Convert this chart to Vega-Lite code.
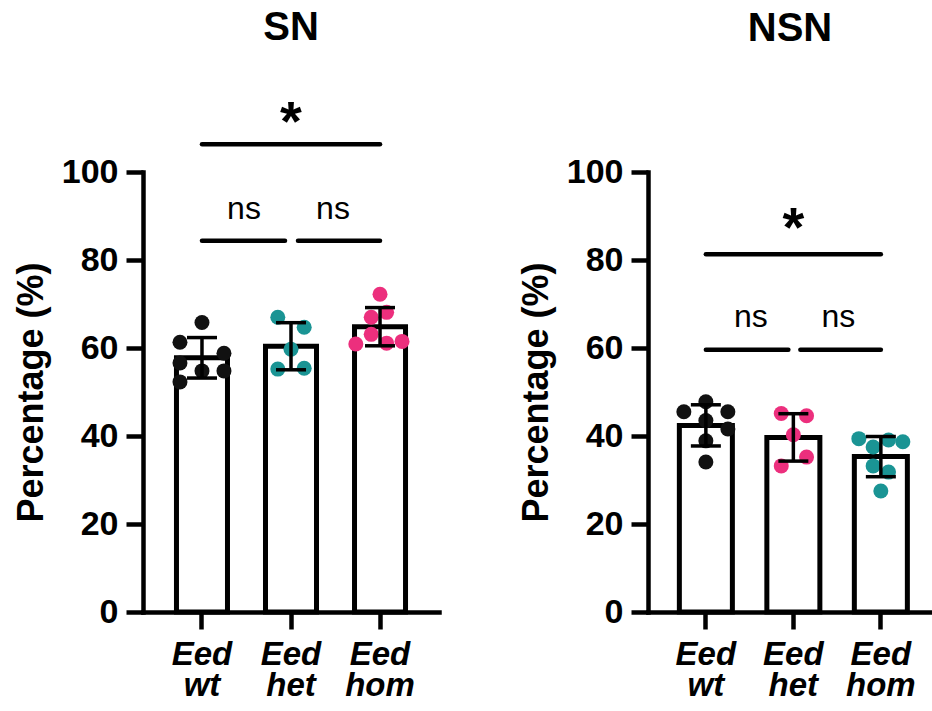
{
  "$schema": "https://vega.github.io/schema/vega-lite/v6.json",
  "background": "white",
  "padding": {"left": 13, "top": 8, "right": 0, "bottom": 0},
  "spacing": 79,
  "config": {
    "font": "Liberation Sans",
    "view": {"stroke": null},
    "axis": {
      "domainColor": "black", "domainWidth": 4.5, "domainCap": "square",
      "tickColor": "black", "tickWidth": 4.5, "tickSize": 17,
      "labelColor": "black", "labelFont": "Liberation Sans", "labelFontWeight": "bold",
      "titleColor": "black", "titleFont": "Liberation Sans", "titleFontWeight": "bold",
      "grid": false
    },
    "title": {"font": "Liberation Sans", "fontWeight": "bold", "fontSize": 40, "color": "black", "anchor": "middle"}
  },
  "datasets": {
    "sn": [
      {"g": "wt", "v": 65.8, "c": 0}, {"g": "wt", "v": 61.3, "c": -1}, {"g": "wt", "v": 58.8, "c": 1},
      {"g": "wt", "v": 56.6, "c": -1}, {"g": "wt", "v": 54.8, "c": 0}, {"g": "wt", "v": 54.8, "c": 1},
      {"g": "wt", "v": 52.3, "c": -1},
      {"g": "het", "v": 67.0, "c": -0.6}, {"g": "het", "v": 64.7, "c": 0.6}, {"g": "het", "v": 59.7, "c": 0},
      {"g": "het", "v": 55.2, "c": -0.6}, {"g": "het", "v": 55.4, "c": 0.6},
      {"g": "hom", "v": 72.2, "c": 0}, {"g": "hom", "v": 67.0, "c": -0.4}, {"g": "hom", "v": 68.1, "c": 0.3},
      {"g": "hom", "v": 60.9, "c": -1.1}, {"g": "hom", "v": 63.1, "c": -0.4}, {"g": "hom", "v": 61.1, "c": 0.3},
      {"g": "hom", "v": 61.5, "c": 1.0}
    ],
    "nsn": [
      {"g": "wt", "v": 47.8, "c": 0}, {"g": "wt", "v": 45.5, "c": -1}, {"g": "wt", "v": 45.5, "c": 1},
      {"g": "wt", "v": 43.5, "c": 0}, {"g": "wt", "v": 41.6, "c": 1}, {"g": "wt", "v": 38.9, "c": 0},
      {"g": "wt", "v": 34.1, "c": 0},
      {"g": "het", "v": 45.1, "c": -0.55}, {"g": "het", "v": 44.6, "c": 0.6}, {"g": "het", "v": 40.3, "c": 0},
      {"g": "het", "v": 35.2, "c": 0.6}, {"g": "het", "v": 33.2, "c": -0.55},
      {"g": "hom", "v": 39.4, "c": -1}, {"g": "hom", "v": 37.5, "c": -0.35}, {"g": "hom", "v": 39.1, "c": 0.35},
      {"g": "hom", "v": 38.7, "c": 1}, {"g": "hom", "v": 33.2, "c": -0.35}, {"g": "hom", "v": 31.8, "c": 0.35},
      {"g": "hom", "v": 27.5, "c": 0}
    ],
    "snStarLine": [{"from": "wt", "to": "hom", "v": 106.3}],
    "snNs1": [{"from": "wt", "to": "het", "v": 84.4}],
    "snNs2": [{"from": "het", "to": "hom", "v": 84.4}],
    "snNsText": [{"g": "wt", "t": "ns", "v": 89.4}, {"g": "het", "t": "ns", "v": 89.4}],
    "snStar": [{"g": "het", "t": "*", "v": 110.6}],
    "nsnStarLine": [{"from": "wt", "to": "hom", "v": 81.3}],
    "nsnNs1": [{"from": "wt", "to": "het", "v": 59.6}],
    "nsnNs2": [{"from": "het", "to": "hom", "v": 59.6}],
    "nsnNsText": [{"g": "wt", "t": "ns", "v": 64.8}, {"g": "het", "t": "ns", "v": 64.8}],
    "nsnStar": [{"g": "het", "t": "*", "v": 86.7}]
  },
  "resolve": {"scale": {"color": "independent", "x": "independent", "y": "independent"}},
  "hconcat": [
    {
      "width": 296, "height": 440,
      "title": {"text": "SN", "offset": 47},
      "resolve": {"scale": {"xOffset": "independent"}},
      "encoding": {
        "x": {
          "field": "g", "type": "nominal", "sort": ["wt", "het", "hom"],
          "scale": {"domain": ["wt", "het", "hom"], "paddingInner": 0.427, "paddingOuter": 0.376},
          "axis": {"title": null, "labelAngle": 0, "labelExpr": "['Eed', datum.value]", "labelFontSize": 33, "labelFontStyle": "italic", "labelLineHeight": 31, "labelPadding": 9}
        }
      },
      "layer": [
        {
          "data": {"name": "sn"},
          "mark": {"type": "bar", "fill": "white", "stroke": "black", "strokeWidth": 5},
          "encoding": {
            "y": {"aggregate": "mean", "field": "v", "type": "quantitative", "title": "Percentage (%)",
              "scale": {"domain": [0, 100]},
              "axis": {"values": [0, 20, 40, 60, 80, 100], "labelFontSize": 34, "titleFontSize": 36, "labelPadding": 8, "titlePadding": 11}}
          }
        },
        {
          "data": {"name": "sn"},
          "mark": {"type": "point", "filled": true, "opacity": 1, "size": 225},
          "encoding": {
            "y": {"field": "v", "type": "quantitative", "title": "Percentage (%)"},
            "xOffset": {"field": "c", "type": "quantitative", "scale": {"domain": [-1, 1], "range": [3.5, 47.5]}},
            "color": {"field": "g", "type": "nominal", "scale": {"domain": ["wt", "het", "hom"], "range": ["#111111", "#1a9494", "#ec2f7d"]}, "legend": null}
          }
        },
        {
          "data": {"name": "sn"},
          "mark": {"type": "errorbar", "extent": "stdev", "color": "black", "ticks": {"size": 30, "thickness": 3.5, "color": "black", "opacity": 1}, "rule": {"strokeWidth": 3.5, "color": "black", "opacity": 1}},
          "encoding": {"y": {"field": "v", "type": "quantitative", "title": "Percentage (%)"}}
        },
        {
          "data": {"name": "snStarLine"},
          "mark": {"type": "rule", "strokeWidth": 4.5, "strokeCap": "round"},
          "encoding": {"x": {"field": "from"}, "x2": {"field": "to"}, "y": {"field": "v", "type": "quantitative"}}
        },
        {
          "data": {"name": "snNs1"},
          "mark": {"type": "rule", "strokeWidth": 4.5, "strokeCap": "round", "x2Offset": -6},
          "encoding": {"x": {"field": "from"}, "x2": {"field": "to"}, "y": {"field": "v", "type": "quantitative"}}
        },
        {
          "data": {"name": "snNs2"},
          "mark": {"type": "rule", "strokeWidth": 4.5, "strokeCap": "round", "xOffset": 7},
          "encoding": {"x": {"field": "from"}, "x2": {"field": "to"}, "y": {"field": "v", "type": "quantitative"}}
        },
        {
          "data": {"name": "snNsText"},
          "mark": {"type": "text", "fontSize": 32, "dx": 42, "baseline": "alphabetic", "color": "black"},
          "encoding": {"x": {"field": "g"}, "y": {"field": "v", "type": "quantitative"}, "text": {"field": "t"}}
        },
        {
          "data": {"name": "snStar"},
          "mark": {"type": "text", "fontSize": 56, "fontWeight": "bold", "baseline": "alphabetic", "color": "black", "dy": 15},
          "encoding": {"x": {"field": "g"}, "y": {"field": "v", "type": "quantitative"}, "text": {"field": "t"}}
        }
      ]
    },
    {
      "width": 284, "height": 440,
      "title": {"text": "NSN", "offset": 106},
      "resolve": {"scale": {"xOffset": "independent"}},
      "encoding": {
        "x": {
          "field": "g", "type": "nominal", "sort": ["wt", "het", "hom"],
          "scale": {"domain": ["wt", "het", "hom"], "paddingInner": 0.394, "paddingOuter": 0.32, "align": 0.56},
          "axis": {"title": null, "labelAngle": 0, "labelExpr": "['Eed', datum.value]", "labelFontSize": 33, "labelFontStyle": "italic", "labelLineHeight": 31, "labelPadding": 9}
        }
      },
      "layer": [
        {
          "data": {"name": "nsn"},
          "mark": {"type": "bar", "fill": "white", "stroke": "black", "strokeWidth": 5},
          "encoding": {
            "y": {"aggregate": "mean", "field": "v", "type": "quantitative", "title": "Percentage (%)",
              "scale": {"domain": [0, 100]},
              "axis": {"values": [0, 20, 40, 60, 80, 100], "labelFontSize": 34, "titleFontSize": 36, "labelPadding": 8, "titlePadding": 11}}
          }
        },
        {
          "data": {"name": "nsn"},
          "mark": {"type": "point", "filled": true, "opacity": 1, "size": 225},
          "encoding": {
            "y": {"field": "v", "type": "quantitative", "title": "Percentage (%)"},
            "xOffset": {"field": "c", "type": "quantitative", "scale": {"domain": [-1, 1], "range": [4.5, 48.5]}},
            "color": {"field": "g", "type": "nominal", "scale": {"domain": ["wt", "het", "hom"], "range": ["#111111", "#ec2f7d", "#1a9494"]}, "legend": null}
          }
        },
        {
          "data": {"name": "nsn"},
          "mark": {"type": "errorbar", "extent": "stdev", "color": "black", "ticks": {"size": 30, "thickness": 3.5, "color": "black", "opacity": 1}, "rule": {"strokeWidth": 3.5, "color": "black", "opacity": 1}},
          "encoding": {"y": {"field": "v", "type": "quantitative", "title": "Percentage (%)"}}
        },
        {
          "data": {"name": "nsnStarLine"},
          "mark": {"type": "rule", "strokeWidth": 4.5, "strokeCap": "round"},
          "encoding": {"x": {"field": "from"}, "x2": {"field": "to"}, "y": {"field": "v", "type": "quantitative"}}
        },
        {
          "data": {"name": "nsnNs1"},
          "mark": {"type": "rule", "strokeWidth": 4.5, "strokeCap": "round", "x2Offset": -5},
          "encoding": {"x": {"field": "from"}, "x2": {"field": "to"}, "y": {"field": "v", "type": "quantitative"}}
        },
        {
          "data": {"name": "nsnNs2"},
          "mark": {"type": "rule", "strokeWidth": 4.5, "strokeCap": "round", "xOffset": 7},
          "encoding": {"x": {"field": "from"}, "x2": {"field": "to"}, "y": {"field": "v", "type": "quantitative"}}
        },
        {
          "data": {"name": "nsnNsText"},
          "mark": {"type": "text", "fontSize": 32, "dx": 45, "baseline": "alphabetic", "color": "black"},
          "encoding": {"x": {"field": "g"}, "y": {"field": "v", "type": "quantitative"}, "text": {"field": "t"}}
        },
        {
          "data": {"name": "nsnStar"},
          "mark": {"type": "text", "fontSize": 56, "fontWeight": "bold", "baseline": "alphabetic", "color": "black", "dy": 15},
          "encoding": {"x": {"field": "g"}, "y": {"field": "v", "type": "quantitative"}, "text": {"field": "t"}}
        }
      ]
    }
  ]
}
